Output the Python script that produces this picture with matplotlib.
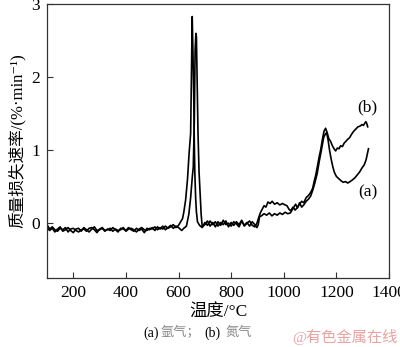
import matplotlib
matplotlib.use("Agg")
import matplotlib.pyplot as plt

plt.rcParams['font.family'] = ['Liberation Serif', 'Noto Sans CJK SC', 'DejaVu Sans']

# ---------- data ----------
# (a) argon
temp_a = [100, 110, 120, 130, 140, 150, 160, 170, 180, 190,
          200, 210, 220, 230, 240, 250, 260, 270, 280, 290,
          300, 310, 320, 330, 340, 350, 360, 370, 380, 390,
          400, 410, 420, 430, 440, 450, 460, 470, 480, 490,
          500, 510, 520, 530, 540, 550, 560, 570, 580, 590, 600,
          606, 612, 620, 630, 639, 646, 652, 656, 660, 663, 666, 668, 671, 674,
          678, 682, 686, 690,
          700, 710, 720, 730, 740, 750, 760, 770, 780, 790,
          800, 810, 820, 830, 840, 850, 860, 870, 880, 890,
          898, 903, 908, 915, 925, 935, 945, 955, 965, 975, 985, 995,
          1005, 1015, 1025, 1035, 1045, 1052, 1060, 1068, 1076, 1085, 1094,
          1102, 1110, 1118, 1127, 1135, 1143, 1152, 1158, 1163, 1168, 1174,
          1180, 1186, 1192, 1200, 1209, 1218, 1226, 1235, 1243, 1252, 1260,
          1270, 1279, 1288, 1298, 1306, 1313, 1318, 1322]
rate_a = [-0.06, -0.10, -0.07, -0.12, -0.08, -0.05, -0.11, -0.09, -0.06, -0.10,
          -0.13, -0.08, -0.07, -0.11, -0.06, -0.09, -0.12, -0.08, -0.05, -0.10,
          -0.09, -0.07, -0.11, -0.08, -0.10, -0.06, -0.09, -0.12, -0.07, -0.08,
          -0.10, -0.06, -0.09, -0.11, -0.07, -0.10, -0.08, -0.13, -0.07, -0.09,
          -0.06, -0.10, -0.05, -0.08, -0.04, -0.09, -0.06, -0.03, -0.07, -0.04, -0.06,
          -0.08, -0.10, -0.07, -0.04, 0.12, 0.35, 0.62, 0.77, 1.4, 2.37, 2.6, 2.55, 1.9, 1.23,
          0.7, 0.41, 0.12, -0.05,
          -0.02, 0.03, -0.04, 0.01, -0.05, 0.02, -0.03, 0.04, -0.02, 0.00,
          -0.04, 0.02, -0.01, -0.05, 0.03, -0.03, 0.01, -0.04, 0.02, -0.02,
          -0.06, -0.02, 0.09, 0.10, 0.13, 0.11, 0.14, 0.10, 0.13, 0.11, 0.14, 0.12,
          0.15, 0.13, 0.14, 0.20, 0.26, 0.21, 0.28, 0.22, 0.25, 0.30, 0.33,
          0.37, 0.45, 0.55, 0.68, 0.85, 1.00, 1.18, 1.22, 1.24, 1.15, 1.00,
          0.88, 0.78, 0.70, 0.64, 0.61, 0.58, 0.56, 0.57, 0.55, 0.57, 0.59,
          0.62, 0.66, 0.70, 0.76, 0.80, 0.87, 0.95, 1.02]

# (b) nitrogen
temp_b = [100, 110, 120, 130, 140, 150, 160, 170, 180, 190,
          200, 210, 220, 230, 240, 250, 260, 270, 280, 290,
          300, 310, 320, 330, 340, 350, 360, 370, 380, 390,
          400, 410, 420, 430, 440, 450, 460, 470, 480, 490,
          500, 510, 520, 530, 540, 550, 560, 570, 580, 590, 600,
          608, 615, 620, 627, 634, 640, 646, 649, 652, 655, 658, 660, 662, 665,
          668, 672, 680,
          690, 700, 710, 720, 730, 740, 750, 760, 770, 780, 790,
          800, 810, 820, 830, 840, 850, 860, 870, 880, 890,
          898, 905, 912, 918, 925, 932, 940, 948, 956, 965, 975, 985, 995,
          1005, 1012, 1020, 1026, 1035, 1043, 1051, 1060, 1068, 1076, 1085,
          1094, 1102, 1110, 1116, 1121, 1128, 1134, 1140, 1147, 1153, 1159,
          1165, 1171, 1178, 1185, 1191, 1197, 1204, 1210, 1216, 1223, 1230,
          1236, 1243, 1250, 1258, 1266, 1274, 1282, 1290, 1297, 1303, 1308,
          1312, 1316, 1319]
rate_b = [-0.02, -0.08, -0.05, -0.09, -0.11, -0.07, -0.09, -0.06, -0.12, -0.08,
          -0.07, -0.10, -0.12, -0.09, -0.08, -0.11, -0.07, -0.06, -0.09, -0.13,
          -0.08, -0.06, -0.10, -0.09, -0.07, -0.11, -0.08, -0.10, -0.09, -0.06,
          -0.11, -0.08, -0.07, -0.09, -0.12, -0.08, -0.06, -0.09, -0.10, -0.07,
          -0.08, -0.05, -0.09, -0.06, -0.08, -0.04, -0.07, -0.05, -0.02, -0.06, -0.03,
          0.02, 0.06, 0.15, 0.32, 0.60, 0.95, 1.23, 2.0, 2.83, 2.3, 1.68, 1.1, 0.68, 0.35,
          0.15, 0.02, -0.03,
          -0.06, 0.01, -0.03, 0.03, -0.02, 0.02, -0.04, 0.01, -0.02, 0.03, -0.05,
          0.01, -0.03, 0.02, -0.02, 0.04, -0.04, 0.00, 0.03, -0.03, -0.05,
          0.00, 0.08, 0.15, 0.19, 0.24, 0.22, 0.29, 0.27, 0.30, 0.26, 0.28, 0.25, 0.27,
          0.25, 0.24, 0.19, 0.17, 0.22, 0.18, 0.21, 0.26, 0.30, 0.28, 0.35,
          0.38, 0.42, 0.48, 0.58, 0.65, 0.78, 0.90, 1.00, 1.15, 1.26, 1.30,
          1.24, 1.16, 1.12, 1.06, 1.02, 0.99, 1.03, 1.02, 1.06, 1.05, 1.10,
          1.12, 1.15, 1.17, 1.22, 1.26, 1.29, 1.32, 1.33, 1.35, 1.34, 1.37,
          1.39, 1.36, 1.32]

x_ticks = [200, 400, 600, 800, 1000, 1200, 1400]
y_ticks = [0, 1, 2, 3]

# ---------- figure ----------
fig = plt.figure(figsize=(4.0, 3.47), dpi=100)
ax = fig.add_axes([0.1175, 0.199, 0.855, 0.789])

ax.plot(temp_a, rate_a, color="black", lw=1.2)
ax.plot(temp_b, rate_b, color="black", lw=1.2)

ax.set_xlim(100, 1400)
ax.set_ylim(-0.75, 3)
ax.set_xticks(x_ticks)
ax.set_yticks(y_ticks)
ax.tick_params(direction="in", length=4, width=0.8, labelsize=12.5, pad=5,
               color="#333333")
for sp in ax.spines.values():
    sp.set_color("#333333")
    sp.set_linewidth(0.9)

ax.text(1318, 1.59, "(b)", fontsize=12.5, ha="center", va="center")
ax.text(1318, 0.42, "(a)", fontsize=12.5, ha="center", va="center")

ax.set_xlabel("温度/°C", fontsize=12.5, labelpad=3)
ax.set_ylabel("质量损失速率/(%·min⁻¹)", fontsize=12, labelpad=4)

# caption and watermark
cy = 1 - 333 / 347
fig.text(143 / 400, cy, "(a)", fontsize=10, va="center", color="black")
fig.text(161 / 400, cy, "氩气；", fontsize=9.5, va="center", color="#888888")
fig.text(204 / 400, cy, "(b)", fontsize=10, va="center", color="black")
fig.text(226 / 400, cy, "氮气", fontsize=9.5, va="center", color="#888888")
fig.text(398 / 400, 1 - 337 / 347, "@有色金属在线", fontsize=11, ha="right",
         va="center", color="#e8a3a3")

fig.savefig("out.png", dpi=100)
